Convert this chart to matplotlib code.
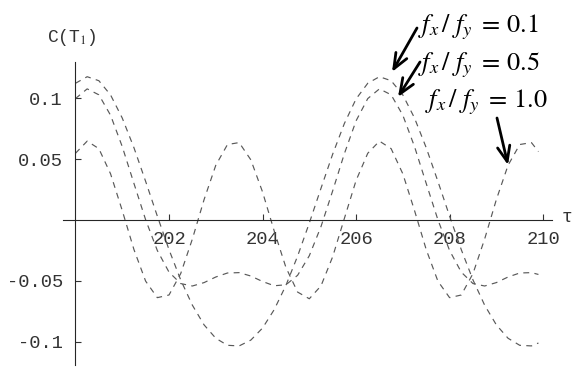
import matplotlib.pyplot as plt

# sample times (tau) and C(T1)
t = [200.0, 200.25, 200.5, 200.75, 201.0, 201.25, 201.5, 201.75, 202.0, 202.25,
     202.5, 202.75, 203.0, 203.25, 203.5, 203.75, 204.0, 204.25, 204.5, 204.75,
     205.0, 205.25, 205.5, 205.75, 206.0, 206.25, 206.5, 206.75, 207.0, 207.25,
     207.5, 207.75, 208.0, 208.25, 208.5, 208.75, 209.0, 209.25, 209.5, 209.75,
     209.9]

c_01 = [0.1125, 0.1179, 0.1146, 0.1029, 0.0839, 0.0595, 0.0318, 0.0032, -0.0244, -0.0493,
        -0.0701, -0.0863, -0.0973, -0.1031, -0.1036, -0.0988, -0.0889, -0.0737, -0.0538, -0.0297,
        -0.0025, 0.0261, 0.0542, 0.0794, 0.0996, 0.1125, 0.1179, 0.1146, 0.1029, 0.0839,
        0.0595, 0.0318, 0.0032, -0.0244, -0.0493, -0.0701, -0.0863, -0.0973, -0.1031, -0.1036,
        -0.1012]

c_05 = [0.0999, 0.1079, 0.1030, 0.0862, 0.0604, 0.0301, 0.0002, -0.0251, -0.0429, -0.0523,
        -0.0543, -0.0515, -0.0469, -0.0436, -0.0433, -0.0461, -0.0506, -0.0541, -0.0533, -0.0455,
        -0.0294, -0.0054, 0.0240, 0.0546, 0.0816, 0.0999, 0.1079, 0.1030, 0.0862, 0.0604,
        0.0301, 0.0002, -0.0251, -0.0429, -0.0523, -0.0543, -0.0515, -0.0469, -0.0436, -0.0433,
        -0.0448]

c_10 = [0.0549, 0.0649, 0.0587, 0.0380, 0.0078, -0.0243, -0.0503, -0.0639, -0.0617, -0.0441,
        -0.0156, 0.0168, 0.0450, 0.0621, 0.0637, 0.0495, 0.0231, -0.0091, -0.0390, -0.0593,
        -0.0648, -0.0542, -0.0302, 0.0013, 0.0325, 0.0549, 0.0649, 0.0587, 0.0380, 0.0078,
        -0.0243, -0.0503, -0.0639, -0.0617, -0.0441, -0.0156, 0.0168, 0.0450, 0.0621, 0.0637,
        0.0563]

x_ticks = [202, 204, 206, 208, 210]
y_ticks = [-0.1, -0.05, 0.05, 0.1]
y_labels = ['-0.1', '-0.05', '0.05', '0.1']
ratios = ['0.1', '0.5', '1.0']

plt.rcParams['mathtext.fontset'] = 'stix'
mono = 'Liberation Mono'

fig = plt.figure(figsize=(5.82, 3.70), dpi=100)
ax = fig.add_axes([63 / 582, 5 / 370, 489 / 582, 303 / 370])

for y in (c_01, c_05, c_10):
    ax.plot(t, y, color='0.35', lw=0.85, dashes=(5, 4.5))

ax.set_xlim(199.733, 210.19)
ax.set_ylim(-0.1193, 0.130)

# mathematica-style axes crossing at (200, 0)
ax.spines['left'].set_position(('data', 200))
ax.spines['bottom'].set_position(('data', 0))
ax.spines['right'].set_visible(False)
ax.spines['top'].set_visible(False)
for s in ('left', 'bottom'):
    ax.spines[s].set_linewidth(0.8)
    ax.spines[s].set_color('0.15')

ax.set_xticks(x_ticks)
ax.set_xticklabels([str(v) for v in x_ticks])
ax.set_yticks(y_ticks)
ax.set_yticklabels(y_labels)
ax.tick_params(direction='in', length=4, width=0.8, colors='0.2', labelsize=13.5)
ax.tick_params(axis='x', pad=8)
ax.tick_params(axis='y', pad=9)
for lab in ax.get_xticklabels() + ax.get_yticklabels():
    lab.set_family(mono)

fig.text(72 / 582, 332 / 370, 'C(T$_1$)', family=mono, fontsize=13,
         ha='center', va='center', color='0.2')
fig.text(567 / 582, 152 / 370, 'τ', family=mono, fontsize=13,
         ha='center', va='center', color='0.2')

# ratio labels with arrows
label_pos = [(418, 338), (418, 300), (425, 263)]
arrows = [((417, 342), (392, 298)), ((420, 308), (398, 273)), ((497, 252), (508, 205))]
for r, (lx, ly), (start, tip) in zip(ratios, label_pos, arrows):
    fig.text(lx / 582, ly / 370, r'$f_x\,/\,\,f_y\;=\,' + r + '$', fontsize=19,
             ha='left', va='baseline')
    ax.annotate('', xy=tip, xytext=start, xycoords='figure pixels',
                textcoords='figure pixels', annotation_clip=False,
                arrowprops=dict(arrowstyle='->,head_length=1.1,head_width=0.45',
                                lw=2, color='black', shrinkA=0, shrinkB=0))

fig.savefig('out.png', dpi=100)
